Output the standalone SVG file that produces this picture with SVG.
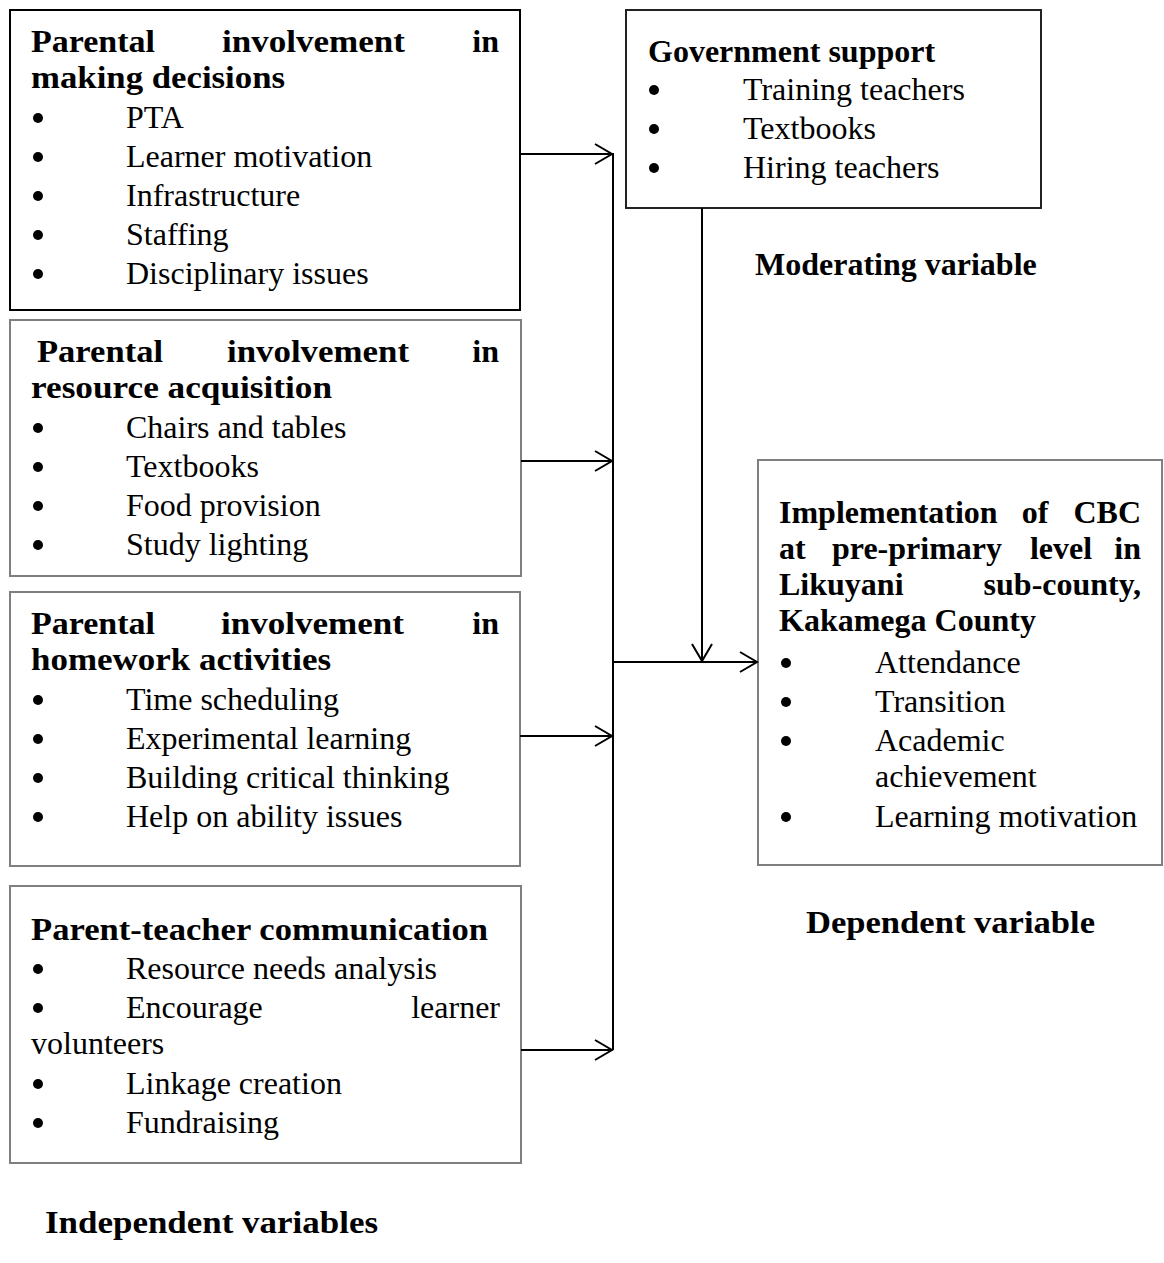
<svg xmlns="http://www.w3.org/2000/svg" width="1164" height="1263" viewBox="0 0 1164 1263">
<style>
.bd{fill:#fff;stroke:#000;stroke-width:2}
.bg{fill:#fff;stroke:#7f7f7f;stroke-width:2}
.t{font-family:"Liberation Serif","Times New Roman",serif;font-size:32px;fill:#000}
.h{font-family:"Liberation Serif","Times New Roman",serif;font-size:32px;font-weight:bold;fill:#000}
.e{text-anchor:end}
.m{text-anchor:middle}
.b{fill:#000}
.c{stroke:#000;stroke-width:2;fill:none}
</style>
<defs>
<marker id="arr" markerUnits="userSpaceOnUse" markerWidth="22" markerHeight="24" refX="19" refY="12" orient="auto">
<path d="M2,2 L19,12 L2,22" fill="none" stroke="#000" stroke-width="2"/>
</marker>
</defs>
<rect width="1164" height="1263" fill="#fff"/>

<g id="node-decisions">
<rect class="bd" x="10" y="10" width="510" height="300"/>
<text class="h" x="31" y="52" textLength="124" lengthAdjust="spacingAndGlyphs">Parental</text>
<text class="h" x="222" y="52" textLength="183" lengthAdjust="spacingAndGlyphs">involvement</text>
<text class="h e" x="499" y="52">in</text>
<text class="h" x="31" y="88" textLength="254" lengthAdjust="spacingAndGlyphs">making decisions</text>
<circle class="b" cx="38" cy="118" r="5"/><text class="t" x="126" y="128">PTA</text>
<circle class="b" cx="38" cy="157" r="5"/><text class="t" x="126" y="167">Learner motivation</text>
<circle class="b" cx="38" cy="196" r="5"/><text class="t" x="126" y="206">Infrastructure</text>
<circle class="b" cx="38" cy="235" r="5"/><text class="t" x="126" y="245">Staffing</text>
<circle class="b" cx="38" cy="274" r="5"/><text class="t" x="126" y="284">Disciplinary issues</text>
</g>

<g id="node-resources">
<rect class="bg" x="10" y="320" width="511" height="256"/>
<text class="h" x="37" y="362" textLength="126" lengthAdjust="spacingAndGlyphs">Parental</text>
<text class="h" x="227" y="362" textLength="182" lengthAdjust="spacingAndGlyphs">involvement</text>
<text class="h e" x="499" y="362">in</text>
<text class="h" x="31" y="398" textLength="301" lengthAdjust="spacingAndGlyphs">resource acquisition</text>
<circle class="b" cx="38" cy="428" r="5"/><text class="t" x="126" y="438">Chairs and tables</text>
<circle class="b" cx="38" cy="467" r="5"/><text class="t" x="126" y="477">Textbooks</text>
<circle class="b" cx="38" cy="506" r="5"/><text class="t" x="126" y="516">Food provision</text>
<circle class="b" cx="38" cy="545" r="5"/><text class="t" x="126" y="555">Study lighting</text>
</g>

<g id="node-homework">
<rect class="bg" x="10" y="592" width="510" height="274"/>
<text class="h" x="31" y="634" textLength="124" lengthAdjust="spacingAndGlyphs">Parental</text>
<text class="h" x="221" y="634" textLength="183" lengthAdjust="spacingAndGlyphs">involvement</text>
<text class="h e" x="499" y="634">in</text>
<text class="h" x="31" y="670" textLength="300" lengthAdjust="spacingAndGlyphs">homework activities</text>
<circle class="b" cx="38" cy="700" r="5"/><text class="t" x="126" y="710">Time scheduling</text>
<circle class="b" cx="38" cy="739" r="5"/><text class="t" x="126" y="749">Experimental learning</text>
<circle class="b" cx="38" cy="778" r="5"/><text class="t" x="126" y="788">Building critical thinking</text>
<circle class="b" cx="38" cy="817" r="5"/><text class="t" x="126" y="827">Help on ability issues</text>
</g>

<g id="node-communication">
<rect class="bg" x="10" y="886" width="511" height="277"/>
<text class="h" x="31" y="940" textLength="457" lengthAdjust="spacingAndGlyphs">Parent-teacher communication</text>
<circle class="b" cx="38" cy="969" r="5"/><text class="t" x="126" y="979">Resource needs analysis</text>
<circle class="b" cx="38" cy="1008" r="5"/><text class="t" x="126" y="1018">Encourage</text>
<text class="t e" x="500" y="1018">learner</text>
<text class="t" x="31" y="1054">volunteers</text>
<circle class="b" cx="38" cy="1084" r="5"/><text class="t" x="126" y="1094">Linkage creation</text>
<circle class="b" cx="38" cy="1123" r="5"/><text class="t" x="126" y="1133">Fundraising</text>
</g>

<g id="node-government">
<rect class="bd" x="626" y="10" width="415" height="198" style="stroke:#222"/>
<text class="h" x="648" y="62">Government support</text>
<circle class="b" cx="654" cy="90" r="5"/><text class="t" x="743" y="100">Training teachers</text>
<circle class="b" cx="654" cy="129" r="5"/><text class="t" x="743" y="139">Textbooks</text>
<circle class="b" cx="654" cy="168" r="5"/><text class="t" x="743" y="178">Hiring teachers</text>
</g>
<g id="label-moderating">
<text class="h" x="755" y="275">Moderating variable</text>
</g>

<g id="node-implementation">
<rect class="bg" x="758" y="460" width="404" height="405"/>
<text class="h" x="779" y="523">Implementation</text>
<text class="h m" x="1035" y="523">of</text>
<text class="h e" x="1141" y="523">CBC</text>
<text class="h" x="779" y="559">at</text>
<text class="h m" x="917" y="559">pre-primary</text>
<text class="h m" x="1061" y="559">level</text>
<text class="h e" x="1141" y="559">in</text>
<text class="h" x="779" y="595">Likuyani</text>
<text class="h e" x="1141" y="595">sub-county,</text>
<text class="h" x="779" y="631">Kakamega County</text>
<circle class="b" cx="786" cy="663" r="5"/><text class="t" x="875" y="673">Attendance</text>
<circle class="b" cx="786" cy="702" r="5"/><text class="t" x="875" y="712">Transition</text>
<circle class="b" cx="786" cy="741" r="5"/><text class="t" x="875" y="751">Academic</text>
<text class="t" x="875" y="787">achievement</text>
<circle class="b" cx="786" cy="817" r="5"/><text class="t" x="875" y="827">Learning motivation</text>
</g>
<g id="label-dependent">
<text class="h" x="806" y="933" textLength="289" lengthAdjust="spacingAndGlyphs">Dependent variable</text>
</g>
<g id="label-independent">
<text class="h" x="45" y="1233" textLength="333" lengthAdjust="spacingAndGlyphs">Independent variables</text>
</g>

<g id="connectors">
<line class="c" x1="613" y1="153" x2="613" y2="1050"/>
<line class="c" x1="520" y1="154" x2="612" y2="154" marker-end="url(#arr)"/>
<line class="c" x1="521" y1="461" x2="612" y2="461" marker-end="url(#arr)"/>
<line class="c" x1="520" y1="736" x2="612" y2="736" marker-end="url(#arr)"/>
<line class="c" x1="521" y1="1050" x2="612" y2="1050" marker-end="url(#arr)"/>
<line class="c" x1="613" y1="662" x2="757" y2="662" marker-end="url(#arr)"/>
<line class="c" x1="702" y1="208" x2="702" y2="661" marker-end="url(#arr)"/>
</g>
</svg>
